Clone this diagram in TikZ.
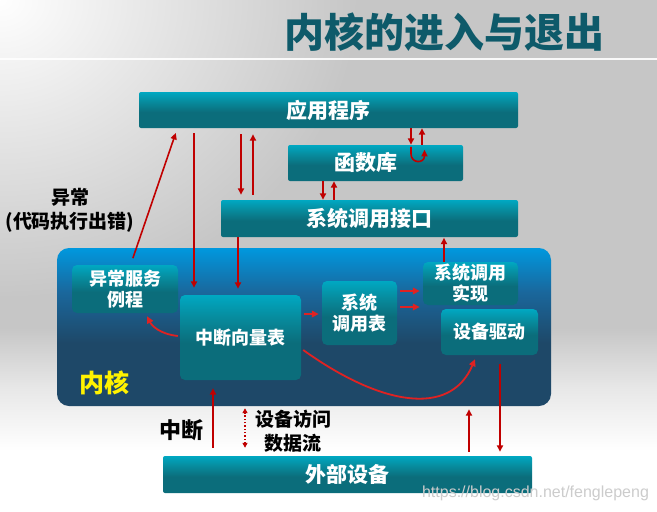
\documentclass[tikz,border=0pt]{standalone}
\usepackage{fontspec}
\setmainfont{Noto Sans CJK SC}
\newfontfamily\wmfont{Liberation Sans}
\usetikzlibrary{arrows.meta,calc,fadings}
\definecolor{boxtop}{HTML}{00A8C2}
\definecolor{boxmid}{HTML}{078C9E}
\definecolor{boxbot}{HTML}{0B6D7B}
\definecolor{kblue}{HTML}{0098DE}
\definecolor{kmid}{HTML}{1A679C}
\definecolor{knavy}{HTML}{1E4868}
\definecolor{darkred}{HTML}{C00000}
\definecolor{brightred}{HTML}{E02222}
\definecolor{titlecol}{HTML}{0E5A6A}
\definecolor{bggray}{HTML}{C6C6C6}
\definecolor{bglight}{HTML}{E8E8E8}
\pgfdeclareverticalshading{boxshade}{100bp}{color(0bp)=(boxbot); color(25bp)=(boxbot); color(47bp)=(boxbot); color(62bp)=(boxmid); color(75bp)=(boxtop); color(100bp)=(boxtop)}
\pgfdeclareverticalshading{kernshade}{100bp}{color(0bp)=(knavy); color(25bp)=(knavy); color(45bp)=(knavy); color(61bp)=(kmid); color(75bp)=(kblue); color(100bp)=(kblue)}
\pgfdeclareverticalshading{bgshade}{100bp}{color(0bp)=(white); color(25bp)=(white); color(31bp)=(white); color(37bp)=(bglight); color(43bp)=(bggray); color(75bp)=(bggray); color(100bp)=(bggray)}
\tikzfading[name=myglow, inner color=transparent!0, outer color=transparent!100]
\tikzset{
  obox/.style={shade, shading=boxshade, rounded corners=2pt, inner sep=0pt, text=white,
    font=\bfseries\fontsize{21}{21}\selectfont},
  ibox/.style={shade, shading=boxshade, rounded corners=5pt, inner sep=0pt, text=white, align=center,
    font=\bfseries\fontsize{18}{21}\selectfont},
  kernbox/.style={shade, shading=kernshade, rounded corners=12pt, inner sep=0pt},
  arr/.style={draw=darkred, line width=1.6pt, -{Triangle[length=6.5pt,width=6pt]}},
  iarr/.style={draw=brightred, line width=1.8pt, -{Triangle[length=7pt,width=6.5pt]}},
  dotarr/.style={draw=darkred, line width=1.3pt, dotted, {Triangle[length=5pt,width=5pt]}-{Triangle[length=5pt,width=5pt]}},
  lbl/.style={text=black, align=center, font=\bfseries\fontsize{19}{24}\selectfont},
}
\begin{document}
\begin{tikzpicture}[x=1pt,y=-1pt]
\useasboundingbox (0,0) rectangle (657,512);
% background
\begin{scope}
  \clip (0,0) rectangle (657,512);
  \shade[shading=bgshade] (0,0) rectangle (657,512);
  \fill[white, path fading=myglow] (-360,-300) rectangle (360,300);
  \draw[white, line width=2pt, opacity=0.9] (0,58.5) -- (657,58.5);
\end{scope}
% title
\node[text=titlecol, font=\bfseries\fontsize{40}{40}\selectfont] (title) at (444,32) {内核的进入与退出};
% outer boxes
\node[obox, minimum width=379pt, minimum height=36pt] (app) at (328.5,110) {应用程序};
\node[obox, minimum width=175pt, minimum height=36pt] (lib) at (375.5,163) {\hspace*{-20pt}函数库};
\node[obox, minimum width=297pt, minimum height=37pt] (sci) at (369.5,218.5) {系统调用接口};
\node[obox, minimum width=369pt, minimum height=37pt] (ext) at (347.5,474.5) {外部设备};
% kernel
\node[kernbox, minimum width=494pt, minimum height=158pt] (kernel) at (304,327) {};
\node[text=yellow, font=\bfseries\fontsize{25}{25}\selectfont] (klabel) at (104,383) {内核};
\node[ibox, minimum width=106pt, minimum height=48pt] (exc) at (125,289) {异常服务\\例程};
\node[ibox, minimum width=121pt, minimum height=85pt] (ivt) at (240.5,337.5) {中断向量表};
\node[ibox, minimum width=75pt, minimum height=64pt] (sct) at (359.5,313) {系统\\调用表};
\node[ibox, minimum width=95pt, minimum height=43pt] (impl) at (470.5,283.5) {系统调用\\实现};
\node[ibox, minimum width=97pt, minimum height=46pt] (drv) at (489.5,332) {设备驱动};
% labels
\node[lbl] (exclbl) at (70,210) {异常\\(代码执行出错)};
\node[lbl, font=\bfseries\fontsize{22}{22}\selectfont] (intlbl) at (181,430) {中断};
\node[lbl] (datalbl) at (293,431) {设备访问\\数据流};
\node[text=gray!40, font=\wmfont\fontsize{16}{16}\selectfont] (wm) at (535.5,493) {https://blog.csdn.net/fenglepeng};
% connectors outside kernel
\draw[arr, shorten <=7pt, shorten >=5pt] (exc.north -| 130.6,0) -- (app.south -| 177.4,0);
\draw[arr, shorten <=5pt, shorten >=7pt] (app.south -| 194,0) -- (ivt.north -| 194,0);
\draw[arr, shorten <=6pt, shorten >=5pt] (app.south -| 241,0) -- (sci.north -| 241,0);
\draw[arr, shorten <=5pt, shorten >=6pt] (sci.north -| 253,0) -- (app.south -| 253,0);
\draw[arr, shorten >=6pt] (sci.south -| 238,0) -- (ivt.north -| 238,0);
\draw[arr] (app.south -| 411,0) -- (lib.north -| 411,0);
\draw[arr] (lib.north -| 422,0) -- (app.south -| 422,0);
\draw[arr] ($(lib.north)+(35.5,2)$) -- ($(lib.north)+(35.5,9)$) .. controls ($(lib.north)+(35.5,19)$) and ($(lib.north)+(49,19)$) .. ($(lib.north)+(49,5)$);
\draw[arr] (lib.south -| 323,0) -- (sci.north -| 323,0);
\draw[arr] (sci.north -| 334,0) -- (lib.south -| 334,0);
\draw[arr, shorten >=0.5pt] (impl.north -| 444,0) -- (sci.south -| 444,0);
\draw[arr, shorten <=9pt, shorten >=4pt] (drv.south -| 500,0) -- (ext.north -| 500,0);
\draw[arr, shorten <=4pt, shorten >=3pt] (ext.north -| 469,0) -- (kernel.south -| 469,0);
\draw[arr, shorten <=8pt, shorten >=8pt] (ext.north -| 213,0) -- (ivt.south -| 213,0);
\draw[dotarr, shorten <=8pt, shorten >=2pt] (ext.north -| 245,0) -- (kernel.south -| 245,0);
% connectors inside kernel
\draw[iarr] ($(ivt.west)+(-2,-1.5)$) .. controls (160,334) and (152,326) .. ($(exc.south)+(22,3)$);
\draw[iarr, shorten <=3pt, shorten >=3pt] (ivt.east |- 0,314) -- (sct.west |- 0,314);
\draw[iarr, shorten <=3pt, shorten >=3pt] (sct.east |- 0,291) -- (impl.west |- 0,291);
\draw[iarr, shorten <=3pt, shorten >=3pt] (sct.east |- 0,307) -- (impl.west |- 0,307);
\draw[iarr] ($(ivt.east)+(2,12.5)$) .. controls (380,405) and (450,418) .. ($(drv.south)+(-14.5,4)$);
\end{tikzpicture}
\end{document}
